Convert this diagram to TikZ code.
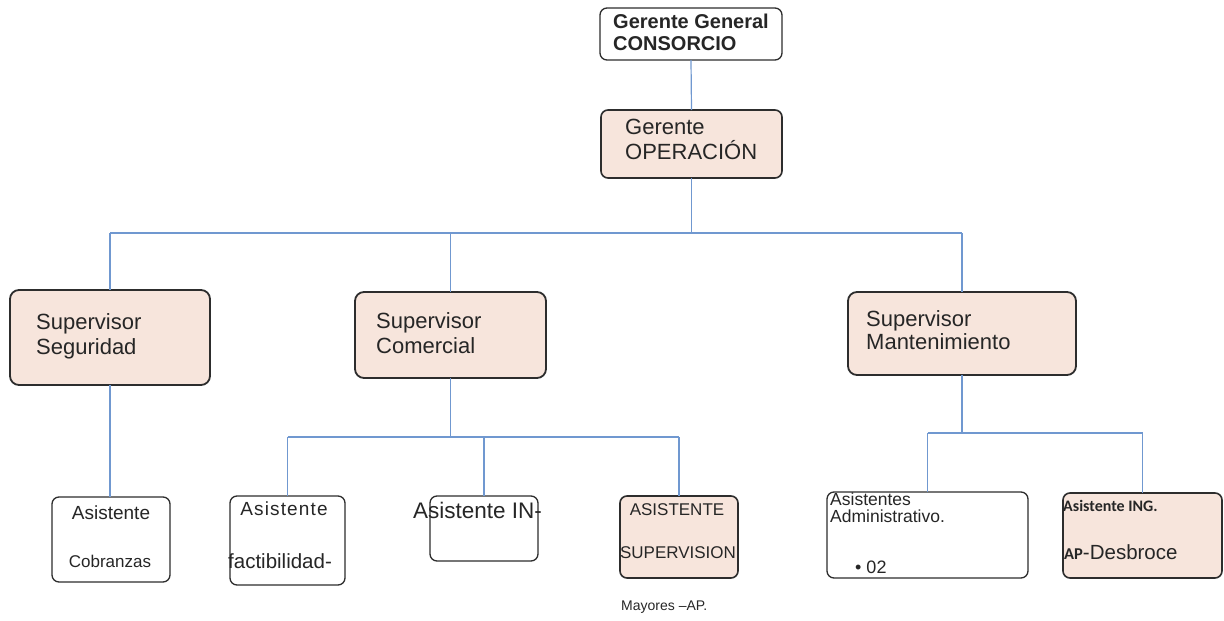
\documentclass[tikz,border=0pt]{standalone}
\usepackage{fontspec}
\setmainfont{Liberation Sans}
\newfontfamily\calfont{Carlito}
\definecolor{peach}{RGB}{247,229,220}
\definecolor{boxline}{RGB}{45,45,45}
\definecolor{linkblue}{RGB}{112,152,208}
\newcommand{\fs}[2]{\fontsize{#1}{#2}\selectfont}
\begin{document}
\begin{tikzpicture}[x=1pt,y=-1pt,
  box/.style={draw=boxline,line width=1.3pt,rounded corners=7pt,inner sep=0pt,outer sep=0pt,anchor=north west,fill=white},
  peachbox/.style={box,fill=peach},
  supbox/.style={peachbox,line width=1.8pt,rounded corners=9pt},
  txt/.style={inner sep=0pt,anchor=base west,text=black!85},
  ctxt/.style={inner sep=0pt,anchor=base,text=black!85},
  conn/.style={draw=linkblue,line width=1.2pt}]
\useasboundingbox (0,0) rectangle (1224,621);

% top level
\node[box,minimum width=182pt,minimum height=52pt] (gg) at (600,8) {};
\node[peachbox,line width=1.6pt,minimum width=181pt,minimum height=68pt] (go) at (601,110) {};

% supervisors
\node[supbox,minimum width=200pt,minimum height=95pt] (ss) at (10,290) {};
\node[supbox,minimum width=191pt,minimum height=86pt] (sc) at (355,292) {};
\node[supbox,minimum width=228pt,minimum height=83pt] (sm) at (848,292) {};

% assistants
\node[box,minimum width=118pt,minimum height=85pt] (ac) at (52,497) {};
\node[box,minimum width=115pt,minimum height=89pt] (af) at (230,496) {};
\node[box,minimum width=108pt,minimum height=65pt] (ai) at (430,496) {};
\node[peachbox,line width=1.6pt,minimum width=118pt,minimum height=82pt] (as) at (620,496) {};
\node[box,minimum width=201pt,minimum height=86pt] (aa) at (827,492) {};
\node[peachbox,line width=1.6pt,minimum width=159pt,minimum height=85pt] (ad) at (1063,493) {};

% bus points
\coordinate (busgo) at (go.south |- 0,233);
\coordinate (bussc) at (sc.south |- 0,437);
\coordinate (bussm) at (sm.south |- 0,433);

% connectors
\draw[conn] (gg.south) -- (go.north);
\draw[conn] (go.south) -- (busgo);
\draw[conn] (ss.north |- busgo) -- (sm.north |- busgo);
\draw[conn] (ss.north |- busgo) -- (ss.north);
\draw[conn] (sc.north |- busgo) -- (sc.north);
\draw[conn] (sm.north |- busgo) -- (sm.north);
\draw[conn] (ss.south) -- (ac.north -| ss.south);
\draw[conn] (sc.south) -- (bussc);
\draw[conn] (af.north |- bussc) -- (as.north |- bussc);
\draw[conn] (af.north |- bussc) -- (af.north);
\draw[conn] (ai.north |- bussc) -- (ai.north);
\draw[conn] (as.north |- bussc) -- (as.north);
\draw[conn] (sm.south) -- (bussm);
\draw[conn] (aa.north |- bussm) -- (ad.north |- bussm);
\draw[conn] (aa.north |- bussm) -- (aa.north);
\draw[conn] (ad.north |- bussm) -- (ad.north);

% texts
\node[txt] (tgg1) at (613,28) {\fs{20}{22}\bfseries Gerente General};
\node[txt] (tgg2) at (613,50) {\fs{20}{22}\bfseries CONSORCIO};
\node[txt] (tgo1) at (625,134) {\fs{22}{25}Gerente};
\node[txt] (tgo2) at (625,159) {\fs{22}{25}OPERACIÓN};
\node[txt] (tss1) at (36,329) {\fs{22}{25}Supervisor};
\node[txt] (tss2) at (36,354) {\fs{22}{25}Seguridad};
\node[txt] (tsc1) at (376,328) {\fs{22}{25}Supervisor};
\node[txt] (tsc2) at (376,353) {\fs{22}{25}Comercial};
\node[txt] (tsm1) at (866,326) {\fs{22}{25}Supervisor};
\node[txt] (tsm2) at (866,349) {\fs{22}{25}Mantenimiento};
\node[ctxt] (tac1) at (111,519) {\fs{19}{21}Asistente};
\node[ctxt] (tac2) at (110,567) {\fs{17}{19}Cobranzas};
\node[ctxt] (taf1) at (284,515) {\fs{19}{21}\addfontfeature{LetterSpace=6}Asistente};
\node[txt] (taf2) at (228,568) {\fs{20.5}{22}factibilidad-};
\node[txt] (tai) at (413,518) {\fs{22.5}{25}Asistente IN-};
\node[ctxt] (tas1) at (677,515) {\fs{17}{19}ASISTENTE};
\node[ctxt] (tas2) at (678,558) {\fs{17}{19}SUPERVISION};
\node[txt] (tmay) at (621,610) {\fs{14}{16}Mayores –AP.};
\node[txt] (taa1) at (830,505) {\fs{17.5}{20}Asistentes};
\node[txt] (taa2) at (830,522) {\fs{17.5}{20}Administrativo.};
\node[txt] (taa3) at (855,573) {\fs{18}{20}\textbullet\ 02};
\node[txt] (tad1) at (1063,511) {\calfont\fs{16}{18}\bfseries Asistente ING.};
\node[txt] (tad2) at (1064,559) {{\calfont\fs{16.5}{18}\bfseries AP}\fs{20.5}{22}-Desbroce};
\end{tikzpicture}
\end{document}
